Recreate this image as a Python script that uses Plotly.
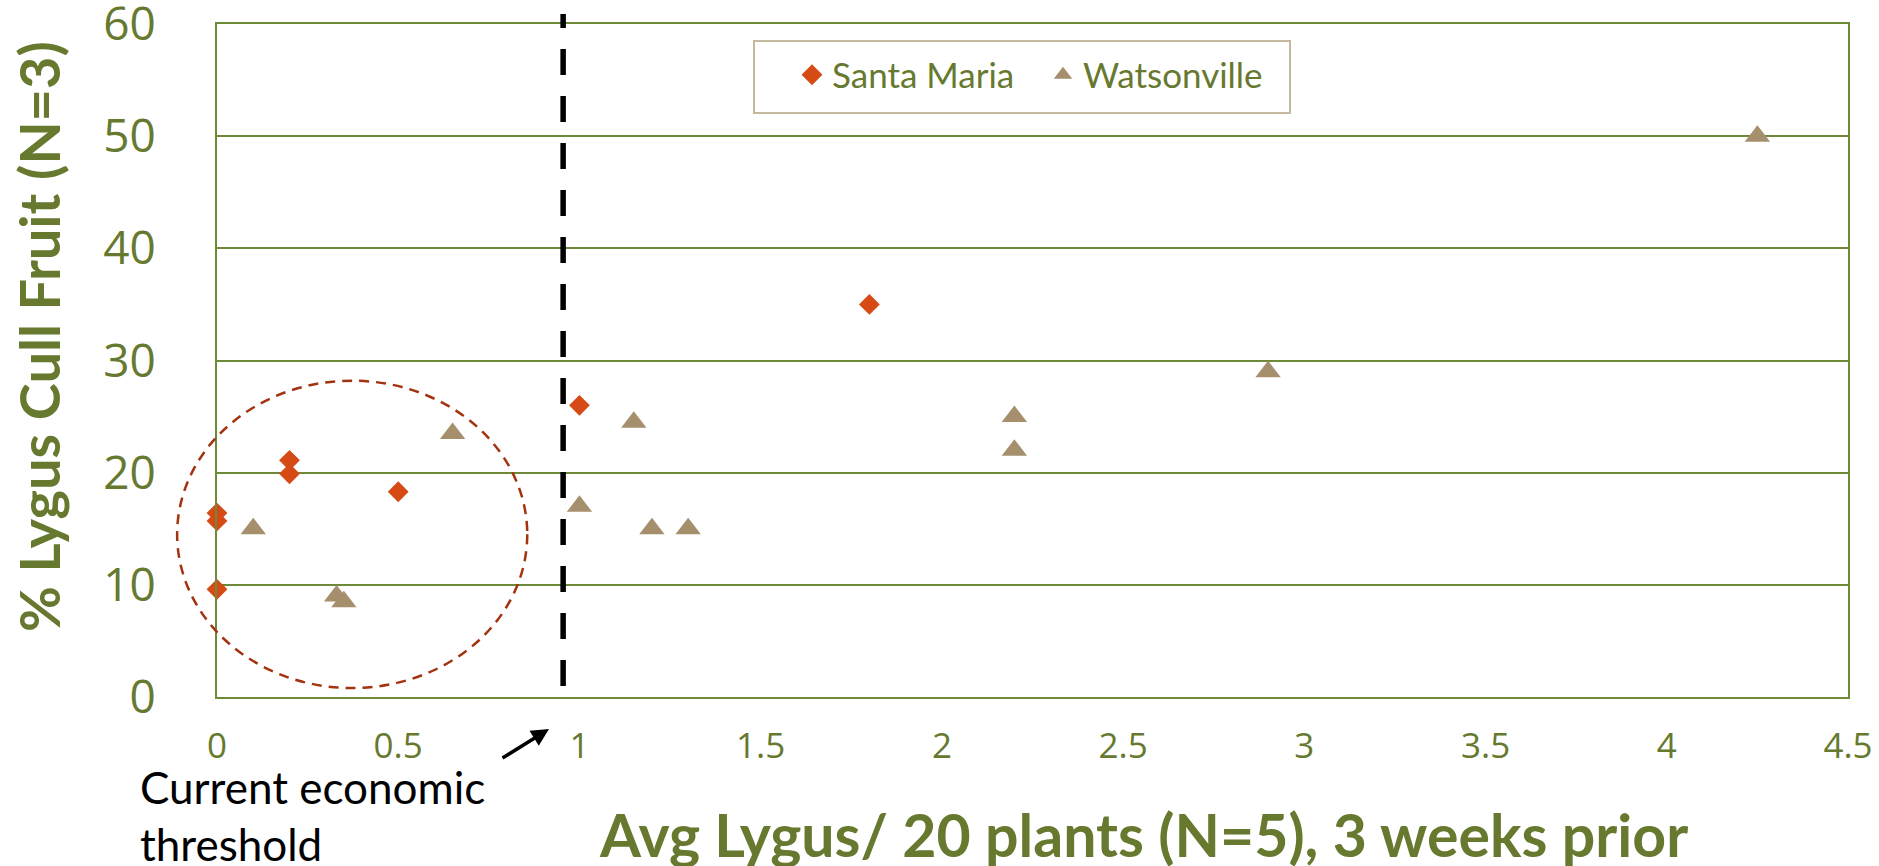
import plotly.graph_objects as go

# ---- data ----
santa_maria_x = [0, 0, 0, 0.2, 0.2, 0.5, 1.0, 1.8]
santa_maria_y = [16.4, 15.7, 9.6, 21.1, 19.9, 18.3, 26.0, 35.0]
watsonville_x = [0.1, 0.33, 0.35, 0.65, 1.0, 1.15, 1.2, 1.3, 2.2, 2.2, 2.9, 4.25]
watsonville_y = [15, 9, 8.5, 23.5, 17, 24.5, 15, 15, 25, 22, 29, 50]
x_ticks = [0, 0.5, 1, 1.5, 2, 2.5, 3, 3.5, 4, 4.5]
y_ticks = [0, 10, 20, 30, 40, 50, 60]
threshold_x = 0.955
x_range = [0, 4.5]
y_range = [0, 60]

GREEN_TXT = "#66792F"
GREEN_LINE = "#6E8A39"
ORANGE = "#D64A16"
TAN = "#A58F6C"

fig = go.Figure()
fig.add_trace(go.Scatter(
    x=santa_maria_x, y=santa_maria_y, mode="markers", name="Santa Maria",
    marker=dict(symbol="diamond", size=16, color=ORANGE), cliponaxis=False))
fig.add_trace(go.Scatter(
    x=watsonville_x, y=watsonville_y, mode="markers", name="Watsonville",
    marker=dict(symbol="triangle-up", size=22, color=TAN), cliponaxis=False))

W = x_range[1] - x_range[0]
# circle around low-density cluster
fig.add_shape(type="circle", xref="x domain", yref="y",
              x0=-0.11 / W, x1=0.856 / W, y0=0.8, y1=28.2,
              line=dict(color="#A3330F", width=2.5, dash="10px,7px"), layer="above")
# economic threshold dashed line
fig.add_shape(type="line", xref="x", yref="y domain",
              x0=threshold_x, x1=threshold_x, y0=0.98 / y_range[1], y1=60.9 / y_range[1],
              line=dict(color="black", width=5.5, dash="26px,21px"), layer="above")
# legend box
fig.add_shape(type="rect", xref="paper", yref="paper",
              x0=(754 - 217) / 1631, x1=(1290 - 217) / 1631,
              y0=(697 - 113) / 673, y1=(697 - 41) / 673,
              line=dict(color="#C4B89E", width=2), fillcolor="white", layer="below")

fig.add_annotation(xref="paper", yref="paper", x=(549 - 217) / 1631, y=(697 - 729) / 673,
                   ax=-48, ay=30, text="", showarrow=True, arrowhead=2, arrowsize=1,
                   arrowwidth=3.5, arrowcolor="black")
fig.add_annotation(xref="paper", yref="paper", x=(138 - 217) / 1631, y=(697 - 815) / 673,
                   xanchor="left", yanchor="middle", align="left", showarrow=False,
                   text="Current economic<br>threshold",
                   font=dict(family="Lato", size=44, color="black"))
fig.add_annotation(xref="paper", yref="paper", x=(38 - 217) / 1631, y=(697 - 337) / 673,
                   xanchor="center", yanchor="middle", textangle=-90, showarrow=False,
                   text="<b>% Lygus Cull Fruit (N=3)</b>",
                   font=dict(family="Lato", size=56, color=GREEN_TXT))
fig.add_annotation(xref="paper", yref="paper", x=(1143 - 217) / 1631, y=(697 - 834) / 673,
                   xanchor="center", yanchor="middle", showarrow=False,
                   text="<b>Avg Lygus/ 20 plants (N=5), 3 weeks prior</b>",
                   font=dict(family="Lato", size=59, color=GREEN_TXT))

fig.update_xaxes(range=x_range, tickvals=x_ticks, showgrid=False, zeroline=False,
                 showline=True, linecolor=GREEN_LINE, linewidth=2, mirror=True,
                 ticks="", ticklabelstandoff=17, ticklabeloverflow="allow",
                 automargin=False,
                 tickfont=dict(family="Open Sans", size=35, color=GREEN_TXT))
fig.update_yaxes(range=y_range, tickvals=y_ticks, showgrid=True, gridcolor=GREEN_LINE,
                 gridwidth=2, zeroline=False, showline=True, linecolor=GREEN_LINE,
                 linewidth=2, mirror=True, ticks="", ticklabelstandoff=50,
                 ticklabeloverflow="allow", automargin=False,
                 tickfont=dict(family="Open Sans", size=46, color=GREEN_TXT))

fig.update_layout(
    width=1879, height=866,
    margin=dict(l=217, r=31, t=24, b=169, autoexpand=False),
    paper_bgcolor="white", plot_bgcolor="white",
    showlegend=True,
    legend=dict(orientation="h", x=(792 - 217) / 1631, y=(697 - 75) / 673,
                xanchor="left", yanchor="middle", bgcolor="rgba(0,0,0,0)",
                borderwidth=0, entrywidth=206, entrywidthmode="pixels",
                font=dict(family="Lato", size=35, color=GREEN_TXT)),
)

fig.write_html("out.html", config={"displayModeBar": False},
               post_script="document.body.style.margin='0';document.body.style.overflow='hidden';")
